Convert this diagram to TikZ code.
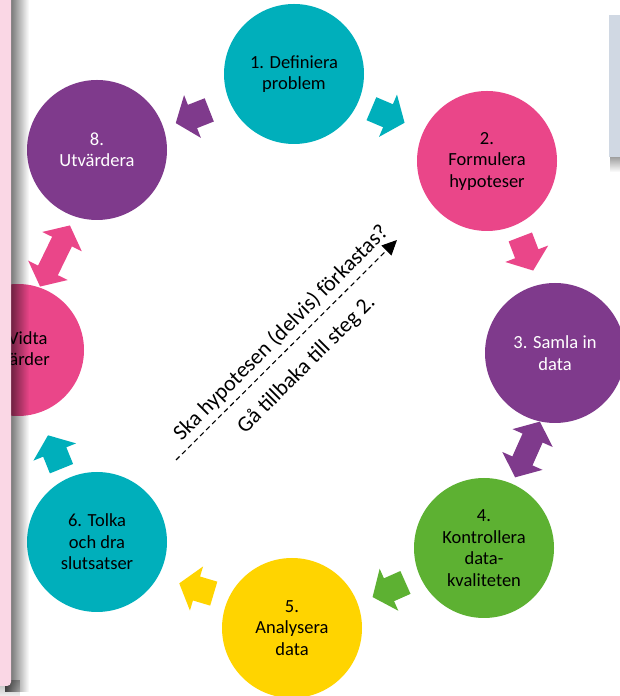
\documentclass[tikz,border=0pt]{standalone}
\usepackage{fontspec}
\setmainfont{Carlito}
\usetikzlibrary{arrows.meta,fadings}
\definecolor{cteal}{HTML}{00AFBB}
\definecolor{cpink}{HTML}{EA4689}
\definecolor{cpurple}{HTML}{7F3A8C}
\definecolor{cgreen}{HTML}{5DB132}
\definecolor{cyellow}{HTML}{FFD400}
\definecolor{cpanel}{HTML}{FAD7E5}
\definecolor{cbox}{HTML}{D0D8E3}
\tikzfading[name=myfaderight, left color=transparent!0, right color=transparent!100]
\tikzfading[name=myfadedown, top color=transparent!0, bottom color=transparent!100]
\tikzset{
  stepcircle/.style={circle, minimum size=140pt, inner sep=0pt, align=center,
    font=\fontsize{18.5}{21.5}\selectfont, text=black},
  blockarrow/.pic={\fill (-18,-12.5) -- (0,-12.5) -- (0,-23) -- (18,0) -- (0,23) -- (0,12.5) -- (-18,12.5) -- cycle;},
  dblarrow/.pic={\fill (-#1,0) -- (-#1+18,22) -- (-#1+18,11) -- (#1-18,11) -- (#1-18,22) -- (#1,0)
     -- (#1-18,-22) -- (#1-18,-11) -- (-#1+18,-11) -- (-#1+18,-22) -- cycle;},
  qtext/.style={rotate=45, inner sep=0pt, font=\fontsize{22}{26}\selectfont}
}
\begin{document}
\begin{tikzpicture}[x=1pt,y=1pt]
\useasboundingbox (0,0) rectangle (620,696);
\clip (0,0) rectangle (620,696);
% circles
\node[stepcircle, fill=cteal] (s1) at (294,622) {1. Definiera\\problem};
\node[stepcircle, fill=cpink] (s2) at (487,535) {2.\\Formulera\\hypoteser};
\node[stepcircle, fill=cpurple, text=white] (s3) at (555,343) {3. Samla in\\data};
\node[stepcircle, fill=cgreen] (s4) at (484,148) {4.\\Kontrollera\\data-\\kvaliteten};
\node[stepcircle, fill=cyellow] (s5) at (292,68) {5.\\Analysera\\data};
\node[stepcircle, fill=cteal] (s6) at (97,154) {6. Tolka\\och dra\\slutsatser};
\node[stepcircle, fill=cpink, minimum size=132pt] (s7) at (18,346) {7. Vidta\\åtgärder};
\node[stepcircle, fill=cpurple, text=white] (s8) at (97,546) {8.\\Utvärdera};
% block arrows
\pic[cpurple, rotate=201.5] at (192.5,579.5) {blockarrow};
\pic[cteal, rotate=-23] at (388,580.25) {blockarrow};
\pic[cpink, rotate=-69] at (526.75,442.25) {blockarrow};
\pic[cpurple, rotate=66] at (527.5,246.5) {dblarrow=30.5};
\pic[cgreen, rotate=204] at (389,106.25) {blockarrow};
\pic[cyellow, rotate=163.4] at (196.5,107.5) {blockarrow};
\pic[cteal, rotate=112] at (54.75,244) {blockarrow};
\pic[cpink, rotate=64] at (55,440) {dblarrow=34};
% central question
\coordinate (ds) at (176,236);
\coordinate (de) at (397,456);
\draw[line width=1.1pt, dash pattern=on 5pt off 3.5pt, -{Triangle[length=15pt,width=14pt]}] (ds) -- (de);
\node[qtext] (q1) at (281,363) {Ska hypotesen (delvis) förkastas?};
\node[qtext] (q2) at (306.5,331) {Gå tillbaka till steg 2.};
% top right box
\fill[black, fill opacity=0.5, path fading=myfadedown] (610,524) rectangle (626,544);
\fill[cbox] (609,539) rectangle (626,681);
% left panel
\fill[black, fill opacity=0.7, path fading=myfaderight] (5,4) rectangle (29,700);
\fill[black, fill opacity=0.3, path fading=myfadedown] (-10,-4) rectangle (20,16);
\fill[cpanel, rounded corners=4pt] (-10,10) rectangle (11,706);
\end{tikzpicture}
\end{document}
